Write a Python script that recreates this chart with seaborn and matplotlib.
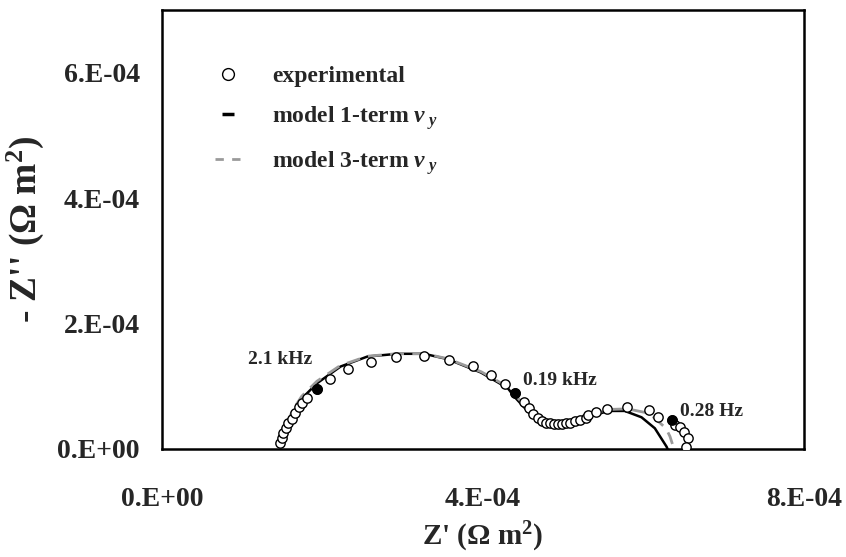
import numpy as np
import pandas as pd
import matplotlib
matplotlib.use("Agg")
import matplotlib.pyplot as plt
import seaborn as sns
from matplotlib.lines import Line2D

# Experimental data (Z', -Z'') in 1e-4 Ohm m^2
exp_x = [1.475, 1.496, 1.513, 1.546, 1.575, 1.621, 1.656, 1.704, 1.746, 1.809, 1.934,
         2.091, 2.316, 2.600, 2.921, 3.259, 3.579, 3.871, 4.100, 4.275, 4.404,
         4.509, 4.579, 4.629, 4.684, 4.73, 4.78, 4.83, 4.88, 4.93, 4.98, 5.03,
         5.09, 5.15, 5.21, 5.28, 5.31, 5.41, 5.55, 5.80, 6.07, 6.18, 6.35, 6.39,
         6.45, 6.50, 6.55, 6.53]
exp_y = [0.091, 0.176, 0.256, 0.335, 0.415, 0.479, 0.575, 0.666, 0.740, 0.810, 0.954,
         1.113, 1.273, 1.395, 1.474, 1.486, 1.422, 1.326, 1.182, 1.033, 0.890,
         0.756, 0.650, 0.559, 0.490, 0.44, 0.42, 0.41, 0.40, 0.40, 0.405, 0.41,
         0.42, 0.44, 0.46, 0.49, 0.54, 0.596, 0.634, 0.666, 0.623, 0.506, 0.463, 0.383,
         0.356, 0.276, 0.171, 0.037]

# Highlighted frequencies
hl_x = [1.934, 4.404, 6.35]
hl_y = [0.954, 0.890, 0.463]
hl_labels = ["2.1 kHz", "0.19 kHz", "0.28 Hz"]

# Model 1-term
m1_x = [1.47, 1.5375, 1.64, 1.746, 1.934, 2.225, 2.559, 2.934, 3.266, 3.559, 3.975,
        4.309, 4.39, 4.60, 4.809, 5.059, 5.309, 5.559, 5.766, 5.975, 6.141, 6.2875, 6.30]
m1_y = [0.05, 0.30, 0.57, 0.81, 1.05, 1.315, 1.474, 1.518, 1.518, 1.433, 1.219,
        0.970, 0.835, 0.543, 0.356, 0.383, 0.506, 0.607, 0.607, 0.506, 0.331, 0.037, 0.0]

# Model 3-term
m3_x = [1.47, 1.53, 1.62, 1.74, 1.93, 2.22, 2.56, 2.93, 3.27, 3.56, 3.98, 4.31, 4.40,
        4.61, 4.80, 5.06, 5.31, 5.56, 5.80, 6.07, 6.28, 6.33, 6.36]
m3_y = [0.05, 0.30, 0.60, 0.84, 1.08, 1.33, 1.48, 1.52, 1.52, 1.44, 1.23, 0.99, 0.86,
        0.57, 0.40, 0.40, 0.52, 0.63, 0.64, 0.57, 0.33, 0.20, 0.08]

sc = 1e-4
df_exp = pd.DataFrame({"x": np.array(exp_x) * sc, "y": np.array(exp_y) * sc})
df_hl = pd.DataFrame({"x": np.array(hl_x) * sc, "y": np.array(hl_y) * sc})
df_m1 = pd.DataFrame({"x": np.array(m1_x) * sc, "y": np.array(m1_y) * sc})
df_m3 = pd.DataFrame({"x": np.array(m3_x) * sc, "y": np.array(m3_y) * sc})

sns.set_style("white")
plt.rcParams["font.family"] = ["Liberation Serif", "DejaVu Serif"]
plt.rcParams["font.weight"] = "bold"
plt.rcParams["mathtext.fontset"] = "custom"
plt.rcParams["mathtext.rm"] = "Liberation Serif:bold"
plt.rcParams["mathtext.it"] = "Liberation Serif:bold:italic"
plt.rcParams["mathtext.bf"] = "Liberation Serif:bold"

fig = plt.figure(figsize=(8.46, 5.57), dpi=100)
ax = fig.add_axes([162 / 846, 1 - 449 / 557, (804 - 162) / 846, (449 - 10) / 557])

sns.lineplot(data=df_m1, x="x", y="y", sort=False, color="black", lw=1.8, ax=ax,
             estimator=None)
sns.lineplot(data=df_m3, x="x", y="y", sort=False, color="#9a9a9a", lw=2.0, ax=ax,
             estimator=None, linestyle=(0, (5, 3)))
sns.scatterplot(data=df_exp, x="x", y="y", marker="o", s=45, facecolor="white",
                edgecolor="black", linewidth=1.0, ax=ax, zorder=3)
sns.scatterplot(data=df_hl, x="x", y="y", marker="o", s=45, color="black",
                edgecolor="black", linewidth=1.0, ax=ax, zorder=4)

offsets = [(-0.86e-4, 0.47e-4), (0.1e-4, 0.20e-4), (0.11e-4, 0.13e-4)]
for (x, y, lab, off) in zip(df_hl["x"], df_hl["y"], hl_labels, offsets):
    ax.text(x + off[0], y + off[1], lab, fontsize=14, fontweight="bold",
            ha="left", va="center")

ax.set_xlim(0, 8e-4)
ax.set_ylim(0, 7e-4)
ax.set_xticks([0, 4e-4, 8e-4])
ax.set_xticklabels(["0.E+00", "4.E-04", "8.E-04"])
ax.set_yticks([0, 2e-4, 4e-4, 6e-4])
ax.set_yticklabels(["0.E+00", "2.E-04", "4.E-04", "6.E-04"])
ax.tick_params(axis="both", direction="in", length=9, width=1.8, labelsize=20)
ax.tick_params(axis="x", pad=27)
ax.tick_params(axis="y", pad=16)
for lab in ax.get_xticklabels() + ax.get_yticklabels():
    lab.set_fontweight("bold")
for sp in ax.spines.values():
    sp.set_linewidth(1.8)
    sp.set_color("black")

ax.set_xlabel(r"Z' ($\Omega$ m$^{2}$)", fontsize=21, fontweight="bold", labelpad=6)
ax.set_ylabel(r"- Z'' ($\Omega$ m$^{2}$)", fontsize=27, fontweight="bold", labelpad=8)

handles = [
    Line2D([], [], lw=0, marker="o", markersize=8.5, markerfacecolor="white",
           markeredgecolor="black", markeredgewidth=1.0),
    Line2D([], [], lw=0, marker="_", markersize=9, markeredgewidth=2.5, color="black"),
    Line2D([], [], lw=2.0, color="#9a9a9a", linestyle=(0, (3, 3))),
]
labels = ["experimental", r"model 1-term $v_{\ y}$", r"model 3-term $v_{\ y}$"]
leg = ax.legend(handles, labels, loc="upper left", bbox_to_anchor=(0.05, 0.922),
                frameon=False, fontsize=17, handlelength=1.1, handletextpad=1.3,
                labelspacing=0.72)
for t in leg.get_texts():
    t.set_fontweight("bold")

fig.savefig("out.png", dpi=100)
